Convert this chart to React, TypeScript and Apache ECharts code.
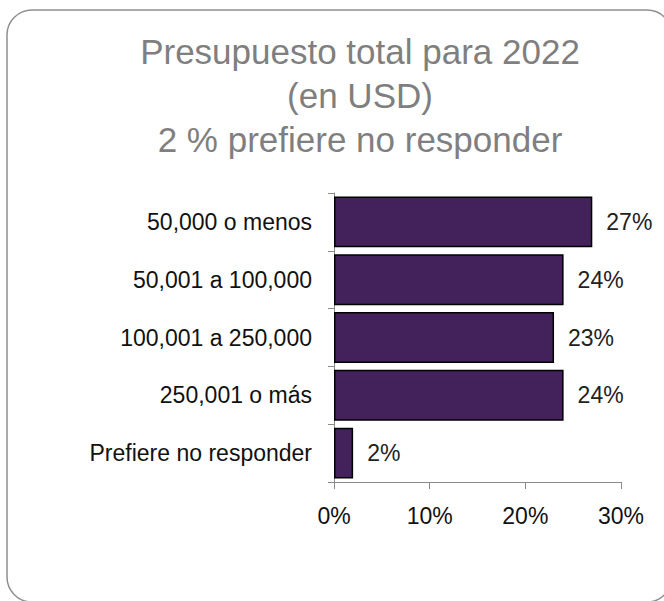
import React, { useEffect, useRef } from "react";
import * as echarts from "echarts";

const categories = [
  "50,000 o menos",
  "50,001 a 100,000",
  "100,001 a 250,000",
  "250,001 o más",
  "Prefiere no responder",
];
const values = [27, 24, 23, 24, 2];
const xTicks = { min: 0, max: 30, interval: 10 };
const titleLines = ["Presupuesto total para 2022", "(en USD)", "2 % prefiere no responder"];

export default function App() {
  const ref = useRef<HTMLDivElement>(null);
  useEffect(() => {
    document.body.style.margin = "0";
    const chart = echarts.init(ref.current!, null, { renderer: "svg" });
    const font = "Liberation Sans, Arial, sans-serif";
    chart.setOption({
      animation: false,
      backgroundColor: "#ffffff",
      title: {
        text: titleLines.join("\n"),
        left: 355,
        top: 24,
        textAlign: "center",
        textStyle: {
          fontFamily: font,
          fontSize: 35,
          lineHeight: 44,
          fontWeight: "normal",
          color: "#7f7f7f",
        },
      },
      graphic: [
        {
          type: "rect",
          shape: { x: 7, y: 10, width: 665, height: 592, r: 25 },
          style: { fill: "none", stroke: "#8f8f8f", lineWidth: 1.5 },
          silent: true,
          z: -1,
        },
      ],
      grid: { left: 334, right: 43, top: 193, bottom: 119, containLabel: false },
      xAxis: {
        type: "value",
        min: xTicks.min,
        max: xTicks.max,
        interval: xTicks.interval,
        splitLine: { show: false },
        axisLine: { show: true, lineStyle: { color: "#8a8a8a", width: 1 } },
        axisTick: { show: true, length: 7, lineStyle: { color: "#8a8a8a" } },
        axisLabel: {
          formatter: "{value}%",
          fontFamily: font,
          fontSize: 23,
          color: "#111",
          margin: 22,
        },
      },
      yAxis: {
        type: "category",
        data: categories,
        inverse: true,
        axisLine: { show: true, lineStyle: { color: "#8a8a8a", width: 1 } },
        axisTick: { show: true, length: 6, lineStyle: { color: "#8a8a8a" } },
        axisLabel: {
          fontFamily: font,
          fontSize: 23,
          color: "#111",
          margin: 22,
        },
      },
      series: [
        {
          type: "bar",
          data: values,
          barCategoryGap: "12%",
          itemStyle: { color: "#43225c", borderColor: "#000", borderWidth: 1.5 },
          label: {
            show: true,
            position: "right",
            distance: 14,
            formatter: "{c}%",
            fontFamily: font,
            fontSize: 23,
            color: "#222",
          },
        },
      ],
    });
    return () => chart.dispose();
  }, []);
  return <div ref={ref} style={{ width: 664, height: 601 }} />;
}
